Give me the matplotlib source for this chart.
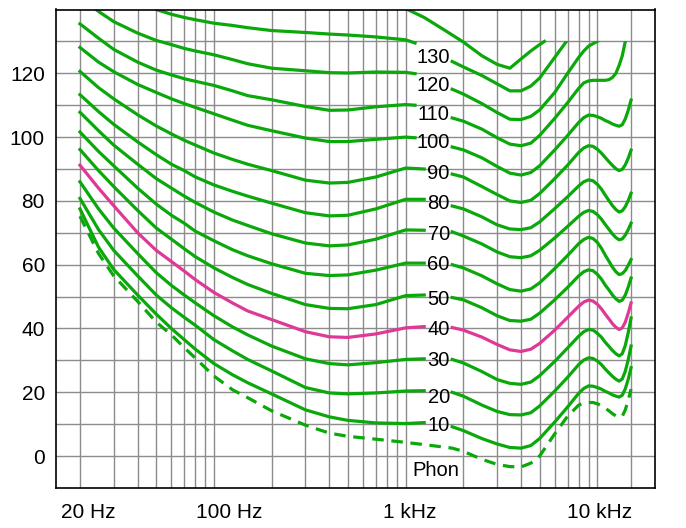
import numpy as np
import matplotlib
matplotlib.use("Agg")
import matplotlib.pyplot as plt
from matplotlib.patches import Rectangle
from matplotlib.transforms import ScaledTranslation

plt.rcParams['font.family'] = ['Liberation Sans', 'DejaVu Sans']

# ---------------------------------  data  ---------------------------------
# left half of each contour: 20 Hz .. just before its label
freq_left = [20, 25, 30, 40, 50, 60, 70, 80, 100, 125, 150, 200, 300, 400, 500, 700, 1000]
freq_left_2 = freq_left + [1250]   # curves with a two digit label
freq_left_3 = freq_left + [1120]   # curves with a three digit label

p10_left = [77.5, 65.5, 58.5, 50.5, 44.5, 40, 36.5, 33.5, 29, 25.5, 23, 19.5, 14.5, 12.3, 11.2, 10.4, 10.2, 10.5]
p20_left = [80.8, 71, 64.5, 56.5, 50.5, 46.5, 43.5, 41, 36.5, 33, 30.3, 26.7, 21.5, 19.8, 19.5, 19.8, 20.4, 20.5]
p30_left = [86, 77.5, 71.5, 63.5, 57.5, 53.5, 50.5, 48, 44, 40.5, 38, 34.5, 30.5, 29, 28.6, 29.3, 30.3, 30.5]
p40_left = [91.2, 84, 78.5, 70, 64.5, 61, 58, 55.3, 51.3, 48, 45.5, 42.8, 39, 37.4, 37.2, 38.3, 40.2, 40.6]
p50_left = [96.1, 89.5, 84.5, 77, 71.5, 68, 65, 62.5, 59, 56, 53.8, 51, 47.5, 46.3, 46.2, 47.5, 50.3, 50.5]
p60_left = [101.6, 95.5, 91, 84, 79, 75.5, 73, 70.5, 67.5, 64.7, 62.8, 60.3, 57.3, 56.6, 56.8, 58.3, 60.5, 60.5]
p70_left = [107.8, 102, 97.5, 91.5, 87, 84, 81.5, 79.5, 76.5, 74, 72.3, 69.7, 66.8, 65.9, 66.2, 68, 70.9, 70.8]
p80_left = [113.3, 108, 104, 98.5, 94.5, 91.5, 89.5, 87.5, 85, 83, 81.5, 79.3, 76.3, 75.3, 75.5, 77.5, 80.5, 80.5]
p90_left = [120.6, 115.5, 112, 107, 103.5, 101, 99, 97.5, 95, 93, 91.5, 89.5, 86.5, 85.6, 85.8, 87.5, 90.3, 90]
p100_left = [128.1, 123.5, 120.5, 116.5, 114, 112, 110.5, 109.3, 107.3, 105.3, 103.7, 102, 99.7, 98.6, 98.6, 99.3, 100, 99.8]
p110_left = [135.5, 131, 127.5, 123.5, 121, 119.5, 118.3, 117.5, 116.2, 114.5, 113, 111.7, 109.6, 108.4, 108.5, 109.5, 110.2, 110]
p120_left = [144, 139.4, 136.2, 132.6, 130.3, 129, 127.8, 127, 125.8, 124.3, 123, 121.6, 120.8, 120.2, 120.1, 120.4, 120.3, 119.9]
p130_left = [np.nan, np.nan, np.nan, 143, 140, 138.5, 137.5, 136.8, 135.7, 135, 134.3, 133.4, 132.8, 132.3, 132, 131.4, 130.5, 129.5]

# right half of each contour: just after its label .. 15 kHz
freq_right = [1750, 2000, 2500, 3000, 3500, 4000, 4500, 5000, 6000, 7000, 8000, 8500, 9000, 9500,
              10000, 10500, 11000, 11500, 12000, 12500, 13000, 13500, 14000, 14500, 15000]

p10_right = [9.2, 8, 5.5, 3.8, 2.7, 2.5, 3.3, 5.5, 10.7, 15.4, 19.7, 21.2, 22, 21.9,
             21.5, 21, 20.3, 19.8, 19.2, 18.8, 18.5, 19.1, 21.1, 24.1, 27.7]
p20_right = [20, 18.8, 16, 14, 13, 12.9, 13.6, 15.7, 20.4, 24.7, 28.7, 30.1, 30.8, 30.6,
             29.8, 28.7, 27.3, 26.1, 25, 24.1, 23.5, 24.2, 26.6, 30.2, 34.5]
p30_right = [30.3, 29.2, 26.5, 24, 22.8, 22.5, 23.2, 25.2, 29.7, 33.9, 37.6, 39, 39.7, 39.5,
             38.5, 37.3, 35.7, 34.4, 33.1, 32.1, 31.4, 32.1, 34.7, 38.7, 43.3]
p40_right = [40.3, 39.5, 37.3, 35, 33.3, 32.8, 33.5, 35.3, 39.5, 43.5, 47, 48.3, 48.9, 48.6,
             47.6, 46.2, 44.5, 43, 41.5, 40.4, 39.7, 40.2, 42, 44.8, 48]
p50_right = [49.7, 49, 46.5, 44, 42.5, 42.3, 42.9, 44.8, 49, 52.9, 56.5, 57.8, 58.4, 58.1,
             57, 55.5, 53.6, 52.1, 50.5, 49.3, 48.5, 48.9, 50.5, 53, 55.8]
p60_right = [60, 59, 56.5, 54, 52.2, 51.7, 52.4, 54.3, 58.8, 62.9, 66.6, 67.9, 68.6, 68.2,
             67, 65.2, 63, 61.1, 59.2, 57.8, 56.9, 57.2, 58.2, 59.8, 61.6]
p70_right = [70.3, 69, 66.5, 64, 62.5, 62.2, 62.8, 64.5, 68.4, 72, 75.2, 76.4, 77, 76.7,
             75.7, 74.3, 72.6, 71.1, 69.6, 68.5, 67.8, 68.1, 69.3, 71, 73]
p80_right = [78.4, 77.5, 75, 72.5, 71.2, 71, 71.6, 73.4, 77.6, 81.3, 84.7, 86, 86.6, 86.3,
             85.2, 83.7, 81.8, 80.1, 78.5, 77.3, 76.5, 76.9, 78.2, 80.1, 82.4]
p90_right = [88.4, 87.5, 84.5, 82, 80, 79.5, 80.2, 82.3, 87, 91.2, 95.2, 96.6, 97.3, 97.1,
             96.2, 95, 93.6, 92.3, 91.1, 90.1, 89.5, 89.9, 91.3, 93.4, 95.9]
p100_right = [96.9, 96, 93.5, 90.8, 88.7, 88.1, 88.9, 91, 96, 100.5, 104.6, 106.1, 106.9, 106.8,
              106.4, 105.9, 105.2, 104.7, 104.1, 103.7, 103.4, 103.9, 105.7, 108.4, 111.6]
p110_right = [106, 105, 102.5, 99.8, 97.8, 97.3, 98.1, 100.5, 105.9, 110.8, 115.3, 117, 117.6, 117.8,
              117.8, 117.8, 117.8, 118, 118.7, 120, 122.5, 125.5, 130, 135, 140]
p120_right = [115, 113.5, 110.5, 107.7, 105.6, 105.5, 106.5, 108.5, 114, 120, 125, 127, 128.5, 129.3,
              130, 130.8, 131.5, 132, 132.5, 133, 133.5, 134, 134.5, 135, 135.5]
p130_right = [123.7, 122, 119.3, 116.7, 114.5, 114.5, 116, 118.5, 125, 130.5, 135, 136, 137, 138,
              139, 140, 140, 140, 140, 140, 140, 140, 140, 140, 140]

# unlabelled top contour, right part only
freq_top = [1000, 1250, 1600, 2000, 2500, 3000, 3500, 4000, 4500, 5000, 5300]
top_right = [140.3, 137.5, 133.5, 129.8, 125.5, 122.8, 121.6, 124.5, 127, 129, 130]

# hearing threshold (dashed), whole range
freq_thr = freq_left + [1250] + freq_right
threshold = [75.2, 63.5, 56.5, 48.5, 42, 38, 34, 30.7, 25.1, 20.8, 18.3, 14.2, 9.7, 7.2, 6.2, 5.3, 4.3,
             3.6,
             2.5, 1.5, -1, -2.6, -3.3, -3.4, -2.2, 0, 7, 12.5, 16, 16.6, 16.8, 16.8,
             16.4, 15.8, 15, 14.2, 13.3, 12.6, 12.2, 12.5, 14.5, 17.5, 21]

phon_labels = ['130', '120', '110', '100', '90', '80', '70', '60', '50', '40', '30', '20', '10']
label_db = [124.9, 116.2, 107, 98.2, 88.6, 79.3, 69.4, 60, 49.1, 39.7, 30.1, 18.3, 9.7]

x_grid = [20, 30, 40, 50, 60, 70, 80, 90, 100, 200, 300, 400, 500, 600, 700, 800, 900,
          1000, 2000, 3000, 4000, 5000, 6000, 7000, 8000, 9000, 10000, 15000]
x_ticks = [20, 100, 1000, 10000]
x_tick_labels = ['20 Hz', '100 Hz', '1 kHz', '10 kHz']
x_label_shift = [8, 15, 4, 2]   # px, labels sit a little right of their grid line

# ---------------------------------  figure  ---------------------------------
green = '#0aa80a'
pink = '#de3996'
lw = 2.3

fig = plt.figure(figsize=(6.86, 5.28), dpi=100)
ax = fig.add_axes([56 / 686, 1 - 488 / 528, (655 - 56) / 686, (488 - 9.5) / 528])
ax.set_xscale('log')
ax.set_xlim(15, 20000)
ax.set_ylim(-10, 140)

for xg in x_grid:
    ax.axvline(xg, color='#8c8c8c', lw=1.0, zorder=1)
for yg in range(0, 140, 10):
    ax.axhline(yg, color='#8c8c8c', lw=1.0, zorder=1)

left_curves = [p10_left, p20_left, p30_left, p40_left, p50_left, p60_left, p70_left,
               p80_left, p90_left, p100_left, p110_left, p120_left, p130_left]
right_curves = [p10_right, p20_right, p30_right, p40_right, p50_right, p60_right, p70_right,
                p80_right, p90_right, p100_right, p110_right, p120_right, p130_right]

# the right parts stop at the 130 dB line
clip = Rectangle((1000, -20), 30000, 150, transform=ax.transData)

for i, (lc, rc) in enumerate(zip(left_curves, right_curves)):
    col = pink if i == 3 else green
    fl = freq_left_3 if i >= 9 else freq_left_2
    ax.plot(fl, lc, color=col, lw=lw, solid_joinstyle='round', zorder=3)
    line, = ax.plot(freq_right, rc, color=col, lw=lw, solid_joinstyle='round', zorder=3)
    line.set_clip_path(clip)

ax.plot(freq_top, top_right, color=green, lw=lw, solid_joinstyle='round', zorder=3)
ax.plot(freq_thr, threshold, color=green, lw=lw, ls=(0, (3.6, 2.4)), zorder=3)

for lab, yv in zip(phon_labels, label_db):
    ax.text(1700, yv, lab, ha='right', va='center', fontsize=14.5, zorder=4)
ax.text(1430, -4.6, 'Phon', ha='center', va='center', fontsize=14.5, zorder=4)

ax.set_yticks(range(0, 140, 20))
ax.set_xticks(x_ticks)
ax.set_xticklabels(x_tick_labels)
ax.xaxis.set_minor_locator(matplotlib.ticker.NullLocator())
ax.tick_params(axis='both', length=0, labelsize=15)
ax.tick_params(axis='x', pad=11)
ax.tick_params(axis='y', pad=8)
for lab, dx in zip(ax.get_xticklabels(), x_label_shift):
    lab.set_transform(lab.get_transform() + ScaledTranslation(dx / 100, 0, fig.dpi_scale_trans))
for s in ax.spines.values():
    s.set_linewidth(1.2)
    s.set_zorder(5)

fig.savefig('out.png', dpi=100)
